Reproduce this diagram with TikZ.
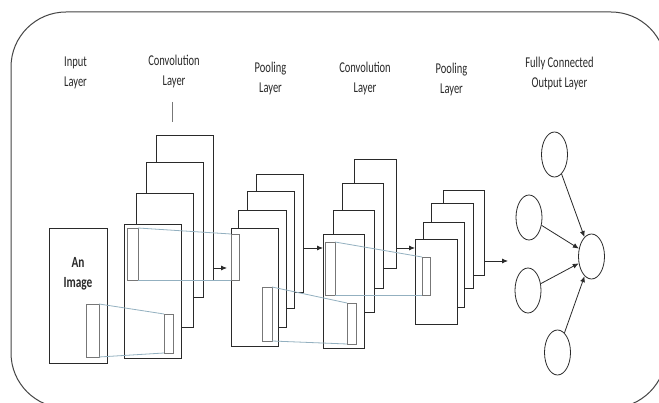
\documentclass[tikz,border=0pt]{standalone}
\usepackage{fontspec}
\setmainfont{Carlito}
\usetikzlibrary{arrows.meta,shapes.geometric,fit}
\definecolor{ink}{HTML}{2A2A2A}
\definecolor{frame}{HTML}{444444}
\definecolor{small}{HTML}{777777}
\definecolor{link}{HTML}{93B0C0}
\newcommand\hsq[1]{\scalebox{0.70}[1]{#1}}
\newcommand\bsq[1]{\scalebox{0.73}[1]{#1}}
\begin{document}
\begin{tikzpicture}[x=1pt,y=-1pt,
  lay/.style={draw=ink,line width=0.8pt,fill=white,inner sep=0pt,outer sep=0pt},
  win/.style={draw=small,line width=0.8pt,fill=white,inner sep=0pt,outer sep=0pt},
  lnk/.style={draw=link,line width=0.8pt},
  arr/.style={draw=ink,line width=0.8pt,-{Latex[length=6pt,width=5pt]}},
  lbl/.style={anchor=base,align=center,text=ink,inner sep=0pt,font=\fontsize{15}{20.3}\selectfont},
  circ/.style={ellipse,draw=ink,line width=0.8pt,minimum width=26pt,minimum height=45pt,inner sep=0pt}]
\useasboundingbox (0,0) rectangle (659,403);
\fill[white] (0,0) rectangle (659,403);
\begin{scope}
\clip (0,0) rectangle (659,403);
\draw[frame,line width=1pt,rounded corners=55pt] (11,12) rectangle (666,408);
\end{scope}
% labels (anchor = baseline of the last line)
\node[lbl] (tin) at (75.5,87) {\hsq{Input}\\\hsq{Layer}};
\node[lbl] (tc1) at (174,86) {\hsq{Convolution}\\\hsq{Layer}};
\node[lbl] (tp1) at (270.5,92.5) {\hsq{Pooling}\\\hsq{Layer}};
\node[lbl] (tc2) at (365,92.5) {\hsq{Convolution}\\\hsq{Layer}};
\node[lbl] (tp2) at (451.5,94) {\hsq{Pooling}\\\hsq{Layer}};
\node[lbl] (tfc) at (559.5,88) {\hsq{Fully Connected}\\\hsq{Output Layer}};
\draw[small,line width=0.8pt] (172,102) -- (172,122);
% input image
\node[lay,fit={(49,228)(107,363)}] (inp) {};
\node[anchor=base,align=center,text=ink,inner sep=0pt,font=\fontsize{15.5}{20}\selectfont\bfseries] (tim) at (78,288) {\bsq{An}\\\bsq{Image}};
% conv 1
\node[lay,fit={(156,135)(213,280)}] (cv1a) {};
\node[lay,fit={(146,162)(203,297)}] (cv1b) {};
\node[lay,fit={(136,193)(193,327)}] (cv1c) {};
\node[lay,fit={(124,224)(181,358)}] (cv1d) {};
% pool 1
\node[lay,fit={(256,174)(303,292)}] (pl1a) {};
\node[lay,fit={(247,191)(294,308)}] (pl1b) {};
\node[lay,fit={(238,210)(286,327)}] (pl1c) {};
\node[lay,fit={(231,228)(278,346)}] (pl1d) {};
% conv 2
\node[lay,fit={(354,159)(396,268)}] (cv2a) {};
\node[lay,fit={(342,183)(383,288)}] (cv2b) {};
\node[lay,fit={(333,210)(374,312)}] (cv2c) {};
\node[lay,fit={(323,234)(364,348)}] (cv2d) {};
% pool 2
\node[lay,fit={(443,190)(484,275)}] (pl2a) {};
\node[lay,fit={(431,203)(473,288)}] (pl2b) {};
\node[lay,fit={(423,222)(464,307)}] (pl2c) {};
\node[lay,fit={(415,239)(457,324)}] (pl2d) {};
% small windows
\node[win,fit={(86,304)(99,357)}] (s0) {};
\node[win,fit={(127,228)(138,280)}] (s1) {};
\node[win,fit={(164,314)(173,353)}] (s2) {};
\node[win,fit={(231,234)(239,280)}] (s3) {};
\node[win,fit={(262,287)(272,341)}] (s4) {};
\node[win,fit={(325,242)(335,295)}] (s5) {};
\node[win,fit={(347,303)(356,344)}] (s6) {};
\node[win,fit={(422,257)(430,295)}] (s7) {};
% links
\draw[lnk] (s0.north east) -- (s2.north west);
\draw[lnk] (s0.south east) -- (s2.south west);
\draw[lnk] (s1.north east) -- (s3.north west);
\draw[lnk] (s1.south east) -- (s3.south west);
\draw[lnk] (s4.north east) -- (s6.north west);
\draw[lnk] (s4.south east) -- (s6.south west);
\draw[lnk] (s5.north east) -- (s7.north west);
\draw[lnk] (s5.south east) -- (s7.south west);
% layer arrows
\draw[arr,shorten >=4pt] (cv1a.east |- 0,268) -- (pl1d.west |- 0,268);
\draw[arr] (pl1a.east |- 0,248) -- (cv2d.west |- 0,248);
\draw[arr] (cv2a.east |- 0,248) -- (pl2d.west |- 0,248);
\coordinate (fcin) at (508,261);
\draw[arr] (pl2a.east |- 0,261) -- (fcin);
% fully connected
\node[circ] (n1) at (554.5,154.5) {};
\node[circ] (n2) at (529,217.5) {};
\node[circ] (n3) at (528,290.5) {};
\node[circ] (n4) at (557.5,352.5) {};
\node[circ] (out) at (591.5,256.5) {};
\draw[arr] (n1) -- (out);
\draw[arr] (n2) -- (out);
\draw[arr] (n3) -- (out);
\draw[arr] (n4) -- (out);
\end{tikzpicture}
\end{document}
